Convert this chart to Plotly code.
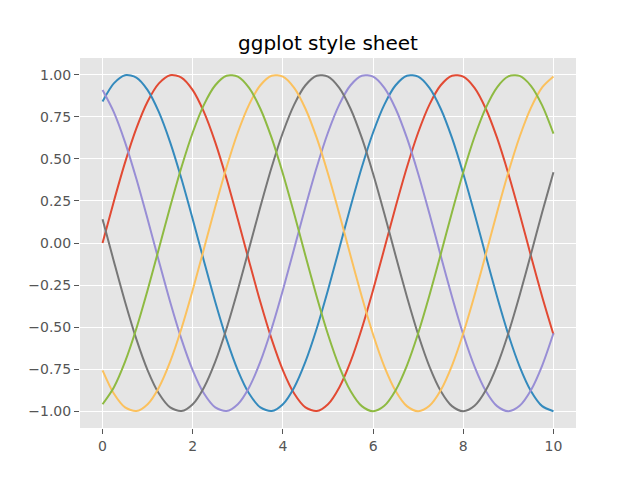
import plotly.graph_objects as go

x = [0.0, 0.25, 0.5, 0.75, 1.0, 1.25, 1.5, 1.75, 2.0, 2.25, 2.5, 2.75, 3.0, 3.25,
     3.5, 3.75, 4.0, 4.25, 4.5, 4.75, 5.0, 5.25, 5.5, 5.75, 6.0, 6.25, 6.5, 6.75,
     7.0, 7.25, 7.5, 7.75, 8.0, 8.25, 8.5, 8.75, 9.0, 9.25, 9.5, 9.75, 10.0]

s_red = [0.0000, 0.2474, 0.4794, 0.6816, 0.8415, 0.9490, 0.9975, 0.9840, 0.9093, 0.7781,
         0.5985, 0.3817, 0.1411, -0.1082, -0.3508, -0.5716, -0.7568, -0.8950, -0.9775, -0.9993,
         -0.9589, -0.8589, -0.7055, -0.5083, -0.2794, -0.0332, 0.2151, 0.4500, 0.6570, 0.8231,
         0.9380, 0.9946, 0.9894, 0.9226, 0.7985, 0.6247, 0.4121, 0.1743, -0.0752, -0.3195, -0.5440]
s_blue = [0.8415, 0.9490, 0.9975, 0.9840, 0.9093, 0.7781, 0.5985, 0.3817, 0.1411, -0.1082,
          -0.3508, -0.5716, -0.7568, -0.8950, -0.9775, -0.9993, -0.9589, -0.8589, -0.7055, -0.5083,
          -0.2794, -0.0332, 0.2151, 0.4500, 0.6570, 0.8231, 0.9380, 0.9946, 0.9894, 0.9226,
          0.7985, 0.6247, 0.4121, 0.1743, -0.0752, -0.3195, -0.5440, -0.7347, -0.8797, -0.9700, -1.0000]
s_purple = [0.9093, 0.7781, 0.5985, 0.3817, 0.1411, -0.1082, -0.3508, -0.5716, -0.7568, -0.8950,
            -0.9775, -0.9993, -0.9589, -0.8589, -0.7055, -0.5083, -0.2794, -0.0332, 0.2151, 0.4500,
            0.6570, 0.8231, 0.9380, 0.9946, 0.9894, 0.9226, 0.7985, 0.6247, 0.4121, 0.1743,
            -0.0752, -0.3195, -0.5440, -0.7347, -0.8797, -0.9700, -1.0000, -0.9679, -0.8755, -0.7287, -0.5366]
s_gray = [0.1411, -0.1082, -0.3508, -0.5716, -0.7568, -0.8950, -0.9775, -0.9993, -0.9589, -0.8589,
          -0.7055, -0.5083, -0.2794, -0.0332, 0.2151, 0.4500, 0.6570, 0.8231, 0.9380, 0.9946,
          0.9894, 0.9226, 0.7985, 0.6247, 0.4121, 0.1743, -0.0752, -0.3195, -0.5440, -0.7347,
          -0.8797, -0.9700, -1.0000, -0.9679, -0.8755, -0.7287, -0.5366, -0.3111, -0.0663, 0.1826, 0.4202]
s_yellow = [-0.7568, -0.8950, -0.9775, -0.9993, -0.9589, -0.8589, -0.7055, -0.5083, -0.2794, -0.0332,
            0.2151, 0.4500, 0.6570, 0.8231, 0.9380, 0.9946, 0.9894, 0.9226, 0.7985, 0.6247,
            0.4121, 0.1743, -0.0752, -0.3195, -0.5440, -0.7347, -0.8797, -0.9700, -1.0000, -0.9679,
            -0.8755, -0.7287, -0.5366, -0.3111, -0.0663, 0.1826, 0.4202, 0.6316, 0.8038, 0.9259, 0.9906]
s_green = [-0.9589, -0.8589, -0.7055, -0.5083, -0.2794, -0.0332, 0.2151, 0.4500, 0.6570, 0.8231,
           0.9380, 0.9946, 0.9894, 0.9226, 0.7985, 0.6247, 0.4121, 0.1743, -0.0752, -0.3195,
           -0.5440, -0.7347, -0.8797, -0.9700, -1.0000, -0.9679, -0.8755, -0.7287, -0.5366, -0.3111,
           -0.0663, 0.1826, 0.4202, 0.6316, 0.8038, 0.9259, 0.9906, 0.9936, 0.9349, 0.8181, 0.6503]

series = [s_red, s_blue, s_purple, s_gray, s_yellow, s_green]
colors = ["#E24A33", "#348ABD", "#988ED5", "#777777", "#FBC15E", "#8EBA42"]

x_ticks = [0, 2, 4, 6, 8, 10]
y_ticks = [-1.0, -0.75, -0.5, -0.25, 0.0, 0.25, 0.5, 0.75, 1.0]

fig = go.Figure()
for ys, c in zip(series, colors):
    fig.add_trace(go.Scatter(x=x, y=ys, mode="lines",
                             line=dict(color=c, width=2, shape="spline", smoothing=0.8),
                             showlegend=False, hoverinfo="skip"))

axis_common = dict(showgrid=True, gridcolor="white", gridwidth=1, zeroline=False,
                   showline=False, ticks="outside", ticklen=5, tickwidth=1, automargin=False,
                   tickcolor="#555555", tickfont=dict(family="DejaVu Sans", size=14, color="#555555"))

# page body has an 8px margin: figure is 632x472 placed at (8, 8)
fig.update_layout(
    width=632, height=472,
    margin=dict(l=72, r=64, t=50, b=52),
    paper_bgcolor="white", plot_bgcolor="#E5E5E5",
    title=dict(text="ggplot style sheet", x=(328 - 8) / 632, xanchor="center",
               y=1 - (43 - 8) / 472, yanchor="middle",
               font=dict(family="DejaVu Sans", size=20, color="black")),
    xaxis=dict(range=[-0.5, 10.5], tickvals=x_ticks, ticktext=[str(v) for v in x_ticks], **axis_common),
    yaxis=dict(range=[-1.1, 1.1], tickvals=y_ticks,
               ticktext=[f"{v:.2f}".replace("-", "\u2212") for v in y_ticks], **axis_common),
)

fig.write_html("out.html")
